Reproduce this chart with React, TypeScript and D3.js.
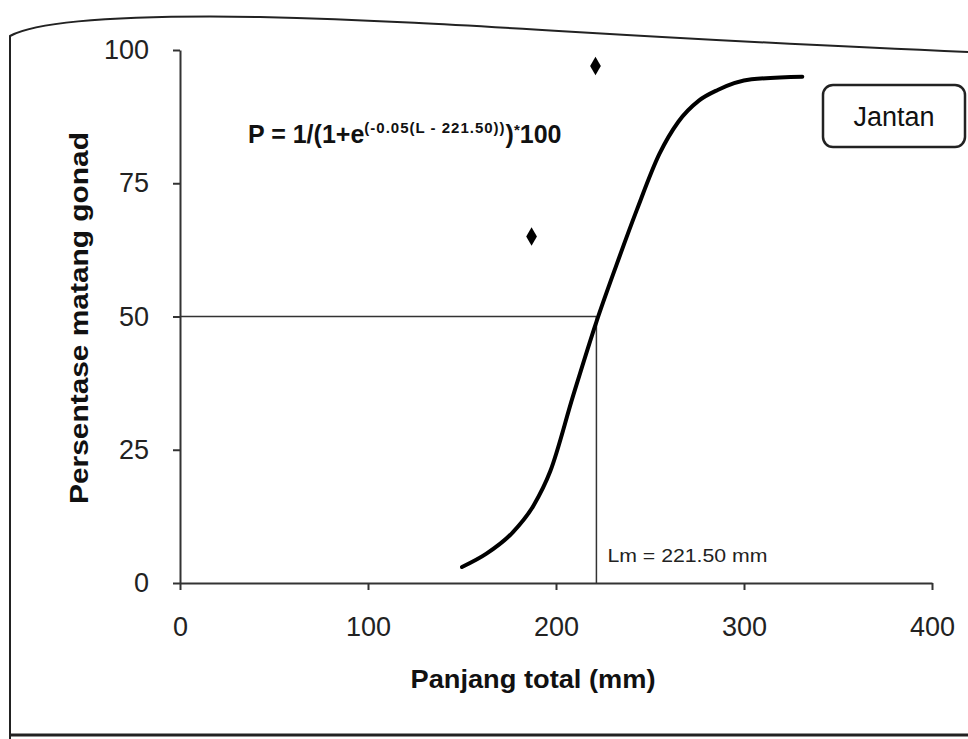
import React, { useEffect, useRef } from "react";
import * as d3 from "d3";

// fitted maturity curve (length mm, % mature)
const curveLength = [150, 163, 177, 188, 197, 209, 221.5, 232, 243, 255, 265, 276, 286, 304, 331];
const curvePercent = [3, 5.5, 9.5, 14.5, 21, 35, 49, 59.5, 70, 80.5, 86.5, 90.5, 92.5, 94.5, 95];

// observed points
const obsLength = [187, 221];
const obsPercent = [65, 97];

const xTicks = [0, 100, 200, 300, 400];
const yTicks = [0, 25, 50, 75, 100];

const lm = 221.5;
const lmPercent = 50;

const W = 968;
const H = 739;

const App = () => {
  const svgRef = useRef<SVGSVGElement>(null);

  useEffect(() => {
    const svg = d3.select(svgRef.current);
    svg.selectAll("*").remove();

    const x = d3.scaleLinear().domain([0, 400]).range([180, 932]);
    const y = d3.scaleLinear().domain([0, 100]).range([583, 50]);

    // scanned frame around the chart
    svg
      .append("path")
      .attr("d", `M10,${H} L10,36 C40,20 130,15 260,17 C470,22 620,38 ${W},52`)
      .attr("fill", "none")
      .attr("stroke", "#222")
      .attr("stroke-width", 2);
    svg
      .append("line")
      .attr("x1", 10)
      .attr("x2", W)
      .attr("y1", 735)
      .attr("y2", 735)
      .attr("stroke", "#222")
      .attr("stroke-width", 3);

    const font = "'Liberation Sans', Arial, sans-serif";

    // x axis
    const xAxis = svg
      .append("g")
      .attr("transform", `translate(0,${y(0)})`)
      .call(d3.axisBottom(x).tickValues(xTicks).tickSize(7).tickSizeOuter(0).tickPadding(27));
    xAxis.select(".domain").attr("stroke", "#333").attr("stroke-width", 2);
    xAxis.selectAll("line").attr("stroke", "#333").attr("stroke-width", 2);
    xAxis
      .selectAll("text")
      .attr("font-family", font)
      .attr("font-size", 27)
      .attr("fill", "#222");

    // y axis
    const yAxis = svg
      .append("g")
      .attr("transform", `translate(${x(0)},0)`)
      .call(d3.axisLeft(y).tickValues(yTicks).tickSize(7).tickSizeOuter(0).tickPadding(24));
    yAxis.select(".domain").attr("stroke", "#333").attr("stroke-width", 2);
    yAxis.selectAll("line").attr("stroke", "#333").attr("stroke-width", 2);
    yAxis
      .selectAll("text")
      .attr("font-family", font)
      .attr("font-size", 27)
      .attr("fill", "#222");

    // Lm reference lines
    svg
      .append("line")
      .attr("x1", x(0))
      .attr("x2", x(lm))
      .attr("y1", y(lmPercent))
      .attr("y2", y(lmPercent))
      .attr("stroke", "#333")
      .attr("stroke-width", 1.5);
    svg
      .append("line")
      .attr("x1", x(lm))
      .attr("x2", x(lm))
      .attr("y1", y(lmPercent))
      .attr("y2", y(0))
      .attr("stroke", "#333")
      .attr("stroke-width", 1.5);

    svg
      .append("text")
      .attr("x", x(lm) + 11)
      .attr("y", y(0) - 21)
      .attr("font-family", font)
      .attr("font-size", 18)
      .attr("textLength", 160)
      .attr("lengthAdjust", "spacingAndGlyphs")
      .attr("fill", "#222")
      .text("Lm = 221.50 mm");

    // fitted curve
    const pts: [number, number][] = curveLength.map((l, i) => [l, curvePercent[i]]);
    const line = d3
      .line<[number, number]>()
      .x((d) => x(d[0]))
      .y((d) => y(d[1]))
      .curve(d3.curveMonotoneX);
    svg
      .append("path")
      .attr("d", line(pts))
      .attr("fill", "none")
      .attr("stroke", "#000")
      .attr("stroke-width", 4)
      .attr("stroke-linecap", "round");

    // observed points
    svg
      .selectAll(".obs")
      .data(obsLength.map((l, i) => [l, obsPercent[i]]))
      .enter()
      .append("path")
      .attr("transform", (d) => `translate(${x(d[0])},${y(d[1])})`)
      .attr("d", d3.symbol().type(d3.symbolDiamond).size(100)())
      .attr("fill", "#000");

    // equation
    const eq = svg
      .append("text")
      .attr("x", 248)
      .attr("y", 143)
      .attr("font-family", font)
      .attr("font-weight", "bold")
      .attr("font-size", 25)
      .attr("fill", "#111");
    eq.append("tspan").text("P = 1/(1+e");
    eq.append("tspan")
      .attr("font-size", 15)
      .attr("dy", -10)
      .attr("letter-spacing", 1)
      .text("(-0.05(L - 221.50))");
    eq.append("tspan").attr("dy", 10).text(")");
    eq.append("tspan").attr("font-size", 15).attr("dy", -8).text("*");
    eq.append("tspan").attr("dy", 8).text("100");

    // axis titles
    svg
      .append("text")
      .attr("transform", `translate(88,318) rotate(-90)`)
      .attr("text-anchor", "middle")
      .attr("font-family", font)
      .attr("font-weight", "bold")
      .attr("font-size", 26)
      .attr("textLength", 372)
      .attr("lengthAdjust", "spacingAndGlyphs")
      .attr("fill", "#111")
      .text("Persentase matang gonad");
    svg
      .append("text")
      .attr("x", 533)
      .attr("y", 688)
      .attr("text-anchor", "middle")
      .attr("font-family", font)
      .attr("font-weight", "bold")
      .attr("font-size", 25)
      .attr("textLength", 245)
      .attr("lengthAdjust", "spacingAndGlyphs")
      .attr("fill", "#111")
      .text("Panjang total (mm)");

    // legend box
    const lg = svg.append("g").attr("transform", "translate(823,85)");
    lg.append("rect")
      .attr("width", 142)
      .attr("height", 62)
      .attr("rx", 10)
      .attr("fill", "#fff")
      .attr("stroke", "#222")
      .attr("stroke-width", 2.5);
    lg.append("text")
      .attr("x", 71)
      .attr("y", 41)
      .attr("text-anchor", "middle")
      .attr("font-family", font)
      .attr("font-size", 27)
      .attr("fill", "#111")
      .text("Jantan");
  }, []);

  return (
    <svg
      ref={svgRef}
      width={W}
      height={H}
      style={{ position: "absolute", left: 0, top: 0, background: "#fff" }}
    />
  );
};

export default App;
